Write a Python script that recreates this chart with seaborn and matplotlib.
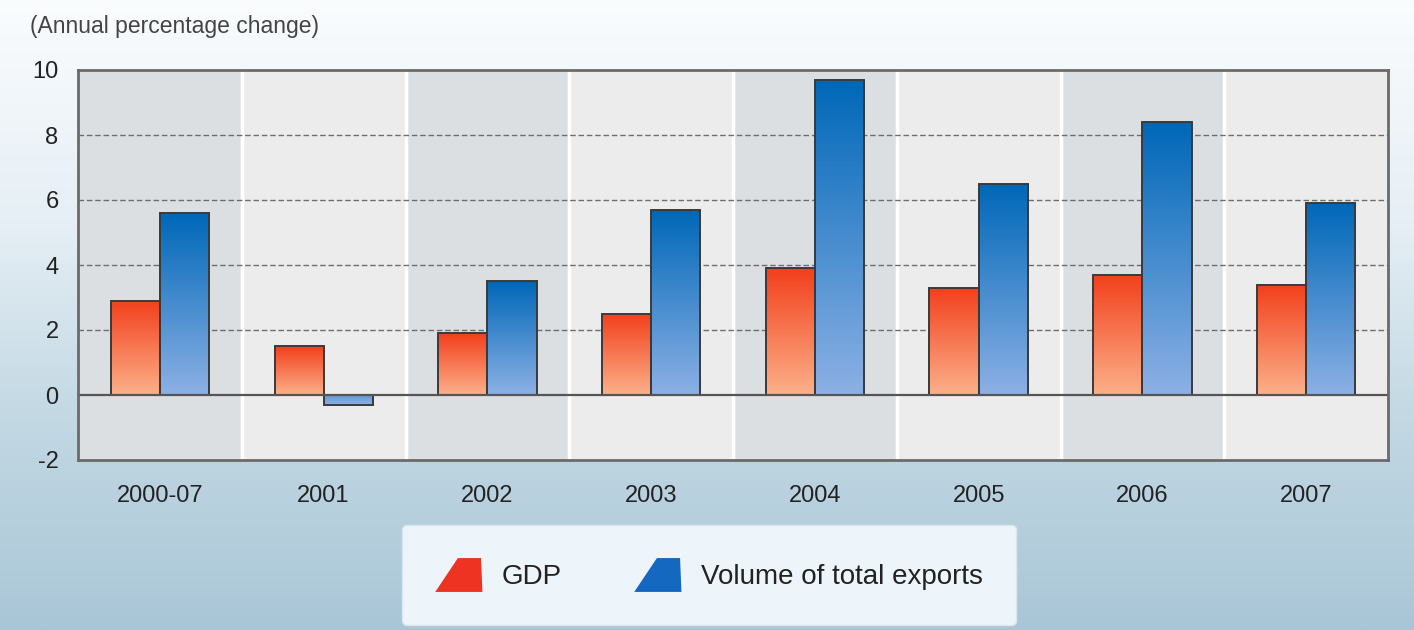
import numpy as np
import pandas as pd
import matplotlib
matplotlib.use("Agg")
import matplotlib.pyplot as plt
import seaborn as sns
from matplotlib.colors import LinearSegmentedColormap
from matplotlib.patches import Patch, Polygon
from matplotlib.legend_handler import HandlerBase

# --- data ---
periods = ["2000-07", "2001", "2002", "2003", "2004", "2005", "2006", "2007"]
gdp = [2.9, 1.5, 1.9, 2.5, 3.9, 3.3, 3.7, 3.4]
exports = [5.6, -0.3, 3.5, 5.7, 9.7, 6.5, 8.4, 5.9]
series_names = ["GDP", "Volume of total exports"]

df = pd.DataFrame({
    "period": periods * 2,
    "value": gdp + exports,
    "series": [series_names[0]] * len(periods) + [series_names[1]] * len(periods),
})

# gradient colours (top, bottom) per series
grad = {
    "GDP": ("#f2401c", "#fbb08a"),
    "Volume of total exports": ("#0068b8", "#8cb0e4"),
}
legend_cols = {"GDP": "#ee3322", "Volume of total exports": "#1568c0"}

sns.set_theme(style="white")
plt.rcParams["font.family"] = ["Liberation Sans", "DejaVu Sans"]
plt.rcParams["axes.unicode_minus"] = False

fig = plt.figure(figsize=(14.14, 6.3), dpi=100)

# --- background gradient for the whole figure ---
bg = fig.add_axes([0, 0, 1, 1], zorder=-10)
bg_cmap = LinearSegmentedColormap.from_list(
    "bg", [(0.0, "#a9c6d6"), (0.35, "#c4d9e4"), (0.65, "#e6eff5"), (1.0, "#fafcfe")])
bg.imshow(np.linspace(0, 1, 256).reshape(-1, 1), aspect="auto", cmap=bg_cmap,
          origin="lower", extent=[0, 1, 0, 1])
bg.axis("off")

ax = fig.add_axes([78 / 1414, 1 - 460 / 630, 1310 / 1414, 390 / 630])
ax.set_facecolor("none")

sns.barplot(data=df, x="period", y="value", hue="series", order=periods,
            hue_order=series_names, width=0.6, ax=ax, legend=False,
            edgecolor="#3a3a3a", linewidth=1.4, saturation=1, zorder=3)

# alternating category bands
for i in range(len(periods)):
    ax.axvspan(i - 0.5, i + 0.5, color="#dcdfe2" if i % 2 == 0 else "#ececec", zorder=0)
for i in range(len(periods) - 1):
    ax.axvline(i + 0.5, color="white", lw=2.5, zorder=1)

for y in [2, 4, 6, 8]:
    ax.axhline(y, color="#6e6e6e", lw=1, ls=(0, (4, 2)), zorder=1.5)
ax.axhline(0, color="#555555", lw=1.6, zorder=4)

# gradient fill inside each bar
for cont, name in zip(ax.containers, series_names):
    top, bot = grad[name]
    cmap = LinearSegmentedColormap.from_list(name, [bot, top])
    for bar in cont:
        x0, y0 = bar.get_xy()
        w, h = bar.get_width(), bar.get_height()
        img = np.linspace(0, 1, 100).reshape(-1, 1)
        if h < 0:
            img = img * 0.3
            ext = [x0, x0 + w, y0 + h, y0]
        else:
            ext = [x0, x0 + w, y0, y0 + h]
        im = ax.imshow(img, aspect="auto", cmap=cmap, origin="lower",
                       extent=ext, zorder=2.5, vmin=0, vmax=1)
        bar.set_facecolor("none")
        im.set_clip_path(bar)

ax.set_xlim(-0.5, len(periods) - 0.5)
ax.set_ylim(-2, 10)
ax.set_yticks(range(-2, 11, 2))
ax.set_xlabel("")
ax.set_ylabel("")
ax.tick_params(axis="y", length=0, pad=14, labelsize=17, labelcolor="#222222")
ax.tick_params(axis="x", length=0, pad=18, labelsize=17, labelcolor="#222222")
for s in ax.spines.values():
    s.set_visible(True)
    s.set_color("#6a6a6a")
    s.set_linewidth(2)
    s.set_zorder(5)

fig.text(30 / 1414, 1 - 26 / 630, "(Annual percentage change)", fontsize=16.5,
         color="#444444", va="center", ha="left")


class TrapHandler(HandlerBase):
    def create_artists(self, legend, orig_handle, xdescent, ydescent,
                       width, height, fontsize, trans):
        x0, y0 = -xdescent, -ydescent
        pts = [[x0, y0], [x0 + width, y0], [x0 + width * 0.97, y0 + height],
               [x0 + width * 0.48, y0 + height]]
        p = Polygon(pts, closed=True, facecolor=orig_handle.get_facecolor(),
                    edgecolor="none", transform=trans)
        return [p]


handles = [Patch(facecolor=legend_cols[n]) for n in series_names]
leg = fig.legend(handles, series_names, loc="center",
                 bbox_to_anchor=(709 / 1414, 1 - 575 / 630), ncol=2,
                 frameon=True, fancybox=True, fontsize=20,
                 handler_map={Patch: TrapHandler()},
                 handlelength=1.7, handleheight=1.5, handletextpad=0.7,
                 columnspacing=2.6, borderpad=1.2, borderaxespad=0)
frame = leg.get_frame()
frame.set_facecolor("#eef5fa")
frame.set_edgecolor("#dbe6ee")
frame.set_alpha(1)
for t in leg.get_texts():
    t.set_color("#222222")

fig.savefig("out.png", dpi=100)
